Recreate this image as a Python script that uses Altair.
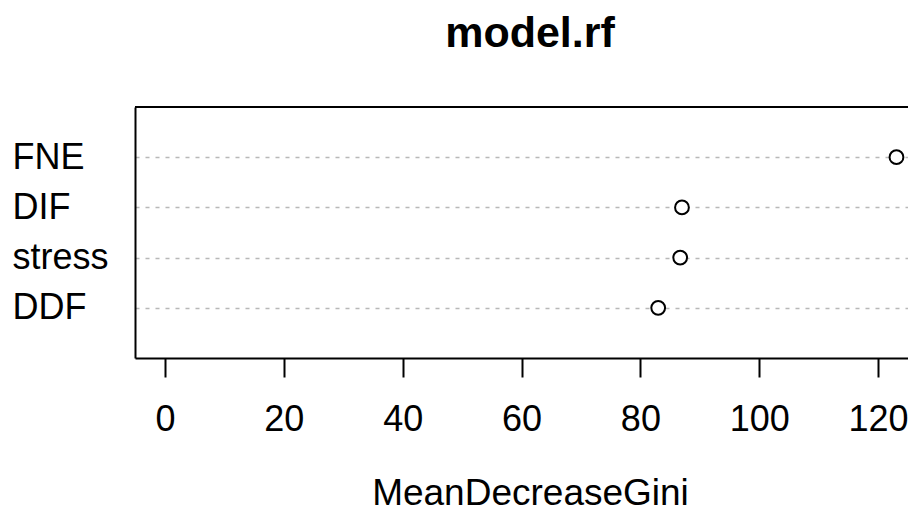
import altair as alt
import pandas as pd

variables = ["FNE", "DIF", "stress", "DDF"]
gini = [123.1, 87.0, 86.7, 83.0]
tick_values = [0, 20, 40, 60, 80, 100, 120]
main_title = "model.rf"

df = pd.DataFrame({"var": variables, "MeanDecreaseGini": gini})

W = 773
H = 251
FONT = "Liberation Sans"

x_scale = alt.Scale(domain=[-5.05, 125.04], nice=False, zero=False)
y_scale = alt.Scale(type="point", padding=1, domain=variables)

points = alt.Chart(df).mark_point(
    shape="circle", filled=True, fill="white", stroke="black",
    strokeWidth=2, size=190, opacity=1
).encode(
    x=alt.X("MeanDecreaseGini:Q", scale=x_scale,
            axis=alt.Axis(values=tick_values, title="MeanDecreaseGini",
                          grid=False, domain=True, domainColor="black",
                          domainWidth=2, ticks=True, tickSize=19, tickWidth=2,
                          tickColor="black", labelFont=FONT, labelFontSize=36,
                          labelColor="black", labelBaseline="alphabetic",
                          labelPadding=53, labelFlush=False,
                          titleFont=FONT, titleFontSize=37, titleFontWeight="normal",
                          titleColor="black", titleBaseline="alphabetic",
                          titleX=395, titleY=146, titleAlign="center")),
    y=alt.Y("var:N", scale=y_scale, sort=variables,
            axis=alt.Axis(title=None, grid=True, gridColor="#b8b8b8",
                          gridDash=[4, 6], gridWidth=1.6, domain=True,
                          domainColor="black", domainWidth=2, ticks=False,
                          labelAlign="left", labelPadding=123,
                          labelBaseline="middle", labelFont=FONT,
                          labelFontSize=36, labelColor="black"))
)

top_line = alt.Chart(df).mark_rule(color="black", strokeWidth=2).encode(
    x=alt.value(0), x2=alt.value(W), y=alt.value(0)
)

title_text = alt.Chart(pd.DataFrame({"t": [main_title]})).mark_text(
    font=FONT, fontSize=43, fontWeight="bold", color="black",
    align="center", baseline="alphabetic"
).encode(text="t:N", x=alt.value(395), y=alt.value(-60))

chart = alt.layer(top_line, points, title_text).properties(
    width=W, height=H,
    autosize=alt.AutoSizeParams(type="none"),
    padding={"left": 127, "top": 99, "right": 0, "bottom": 154},
).configure_view(stroke=None)

chart.save("out.html", embed_options={"renderer": "svg", "actions": False})
